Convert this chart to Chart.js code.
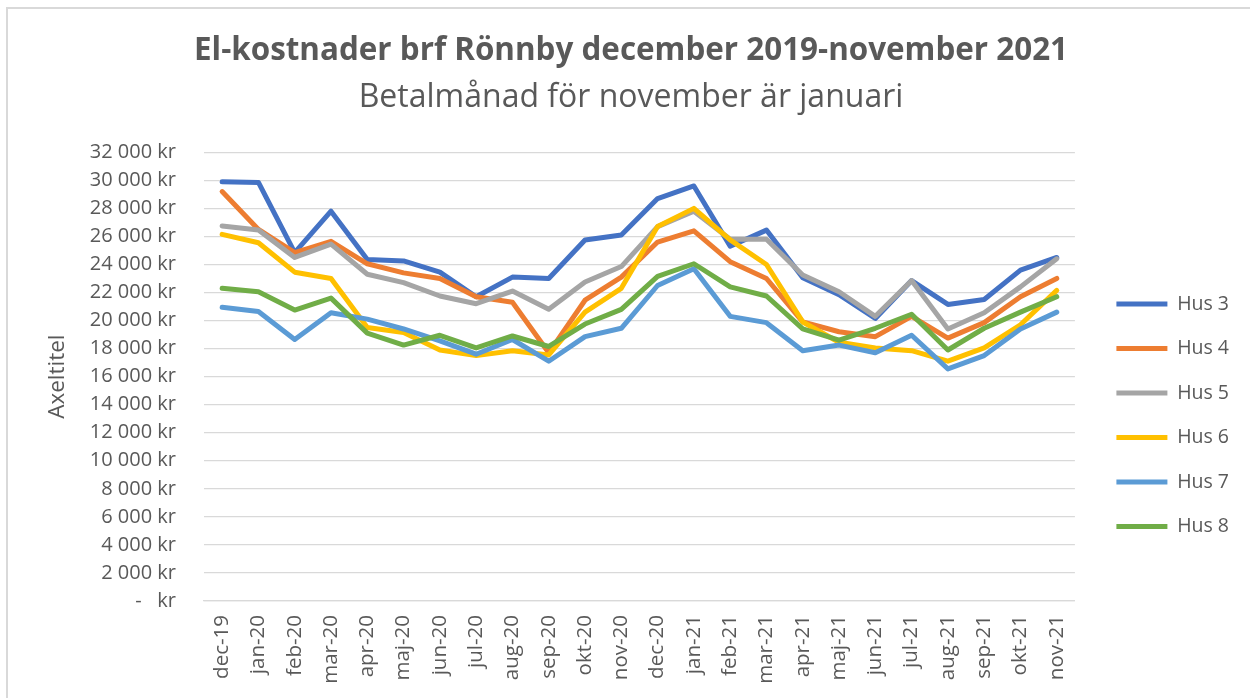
<!DOCTYPE html>
<html>
<head>
<meta charset="utf-8">
<script src="https://cdn.jsdelivr.net/npm/chart.js@4.4.1/dist/chart.umd.min.js"></script>
<style>
    html, body { margin: 0; padding: 0; background: #fff; overflow: hidden; }
    #wrap { position: relative; width: 1250px; height: 698px; }
    #frame {
        position: absolute; left: 6px; top: 7px; width: 1300px; height: 760px;
        border: 2px solid #d9d9d9; pointer-events: none;
    }
</style>
</head>
<body>
<div id="wrap">
    <canvas id="elChart" width="1250" height="698"></canvas>
    <div id="frame"></div>
</div>
<script>
// Months (x categories)
const months = ['dec-19', 'jan-20', 'feb-20', 'mar-20', 'apr-20', 'maj-20', 'jun-20', 'jul-20',
    'aug-20', 'sep-20', 'okt-20', 'nov-20', 'dec-20', 'jan-21', 'feb-21', 'mar-21', 'apr-21',
    'maj-21', 'jun-21', 'jul-21', 'aug-21', 'sep-21', 'okt-21', 'nov-21'];

// Cost per house, kr
const hus3 = [29900, 29850, 24850, 27800, 24350, 24250, 23450, 21700, 23100, 23000, 25750, 26100,
    28700, 29600, 25300, 26450, 23050, 21850, 20150, 22850, 21150, 21500, 23600, 24500];
const hus4 = [29200, 26500, 24850, 25650, 24050, 23400, 23000, 21700, 21300, 17700, 21450, 23100,
    25600, 26400, 24200, 23000, 19900, 19200, 18850, 20300, 18750, 19850, 21700, 23000];
const hus5 = [26750, 26450, 24500, 25450, 23300, 22700, 21750, 21200, 22100, 20800, 22750, 23850,
    26700, 27800, 25800, 25800, 23250, 22050, 20300, 22850, 19400, 20550, 22400, 24400];
const hus6 = [26150, 25550, 23450, 23000, 19500, 19150, 17900, 17500, 17850, 17550, 20600, 22300,
    26700, 28000, 25750, 24000, 19900, 18450, 18050, 17850, 17100, 18050, 19700, 22150];
const hus7 = [20950, 20650, 18650, 20550, 20100, 19400, 18550, 17600, 18650, 17100, 18850, 19450,
    22500, 23700, 20300, 19850, 17850, 18250, 17700, 18950, 16550, 17500, 19400, 20600];
const hus8 = [22300, 22050, 20750, 21600, 19100, 18250, 18950, 18050, 18900, 18150, 19750, 20800,
    23150, 24050, 22400, 21750, 19400, 18600, 19450, 20450, 17900, 19450, 20600, 21700];

const seriesNames = ['Hus 3', 'Hus 4', 'Hus 5', 'Hus 6', 'Hus 7', 'Hus 8'];
const seriesValues = [hus3, hus4, hus5, hus6, hus7, hus8];
const seriesColors = ['#4472c4', '#ed7d31', '#a5a5a5', '#ffc000', '#5b9bd5', '#70ad47'];

// Y axis range
const yMin = 0;
const yMax = 32000;
const yStep = 2000;

const textColor = '#595959';
const gridColor = '#d9d9d9';

function formatKr(value) {
    if (value === 0) return '-   kr';
    return String(value).replace(/\B(?=(\d{3})+(?!\d))/g, ' ') + ' kr';
}

Chart.defaults.font.family = "'Open Sans', sans-serif";
Chart.defaults.color = textColor;

const datasets = seriesNames.map((name, i) => ({
    label: name,
    data: seriesValues[i],
    borderColor: seriesColors[i],
    backgroundColor: seriesColors[i],
    borderWidth: 5,
    borderJoinStyle: 'round',
    borderCapStyle: 'round',
    pointRadius: 0,
    pointHoverRadius: 0,
    tension: 0,
    fill: false,
    // later series drawn on top, like the spreadsheet
    order: seriesNames.length - i
}));

new Chart(document.getElementById('elChart').getContext('2d'), {
    type: 'line',
    data: { labels: months, datasets: datasets },
    options: {
        responsive: false,
        animation: false,
        layout: { padding: { left: 23, right: 11, top: 0, bottom: 0 } },
        plugins: {
            title: {
                display: true,
                text: 'El-kostnader brf Rönnby december 2019-november 2021',
                color: textColor,
                font: { size: 31.4, weight: 'bold' },
                padding: { top: 32, bottom: 0 }
            },
            subtitle: {
                display: true,
                text: 'Betalmånad för november är januari',
                color: textColor,
                font: { size: 32, weight: 'normal' },
                padding: { top: 8.7, bottom: 35.5 }
            },
            legend: {
                position: 'right',
                align: 'start',
                fullSize: false,
                // empty title only pushes the items down to where they sit in the original
                title: { display: true, text: ' ', font: { size: 10 }, padding: { top: 105, bottom: 0 } },
                labels: {
                    usePointStyle: true,
                    pointStyle: 'line',
                    pointStyleWidth: 51,
                    padding: 25,
                    color: textColor,
                    font: { size: 19.5 },
                    sort: (a, b) => a.datasetIndex - b.datasetIndex
                }
            },
            tooltip: { enabled: false }
        },
        scales: {
            x: {
                offset: true,
                grid: { display: false, drawTicks: false },
                border: { display: true, color: gridColor, width: 1.3 },
                ticks: {
                    color: textColor,
                    font: { size: 20.5 },
                    minRotation: 90,
                    maxRotation: 90,
                    padding: 14,
                    autoSkip: false
                },
                afterFit: (scale) => { scale.height = 97; }
            },
            y: {
                min: yMin,
                max: yMax,
                grid: { color: gridColor, lineWidth: 1.3, drawTicks: false },
                border: { display: false },
                ticks: {
                    stepSize: yStep,
                    color: textColor,
                    font: { size: 20 },
                    padding: 28,
                    callback: (value) => formatKr(value)
                },
                title: {
                    display: true,
                    text: 'Axeltitel',
                    color: textColor,
                    font: { size: 22.5 },
                    padding: { top: 21.5, bottom: 0 }
                },
                afterFit: (scale) => { scale.width = 181; }
            },
            // spacer between plot and legend
            gap: {
                position: 'right',
                display: true,
                grid: { display: false, drawTicks: false },
                border: { display: false },
                ticks: { display: false },
                afterFit: (scale) => { scale.width = 16.5; }
            }
        }
    }
});
</script>
</body>
</html>
